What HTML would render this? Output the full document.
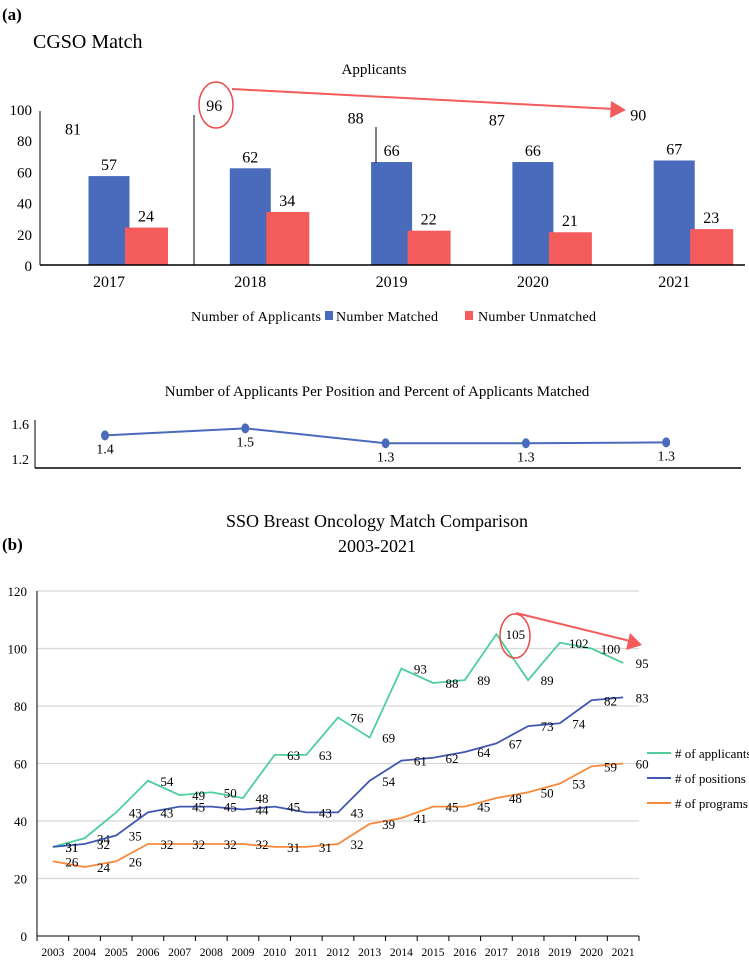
<!DOCTYPE html>
<html><head><meta charset="utf-8"><style>
body{margin:0;background:#fff;}
svg{display:block;font-family:"Liberation Serif",serif;}
</style></head><body>
<svg id="s" width="749" height="960" viewBox="0 0 749 960" xmlns="http://www.w3.org/2000/svg">
<text x="2" y="20" font-size="17" font-weight="bold">(a)</text>
<text x="33" y="48" font-size="20">CGSO Match</text>
<text x="374" y="74" font-size="15" text-anchor="middle">Applicants</text>
<g id="ga"></g>
<g id="legA">
<text x="191" y="321" font-size="14" textLength="130">Number of Applicants</text>
<rect x="325" y="311" width="8" height="9" fill="#4a6abb"/>
<text x="336" y="321" font-size="14" textLength="102">Number Matched</text>
<rect x="465" y="311" width="8" height="9" fill="#f45b5b"/>
<text x="478" y="321" font-size="14" textLength="118">Number Unmatched</text>
</g>
<text x="377" y="396" font-size="15" text-anchor="middle">Number of Applicants Per Position and Percent of Applicants Matched</text>
<g id="gr"></g>
<text x="377" y="527" font-size="18" text-anchor="middle">SSO Breast Oncology Match Comparison</text>
<text x="377" y="552" font-size="18" text-anchor="middle">2003-2021</text>
<text x="2" y="550" font-size="17" font-weight="bold">(b)</text>
<g id="gb"></g>
</svg>
<script>
const aYears=["2017","2018","2019","2020","2021"];
const aApplicants=[81,96,88,87,90];
const aMatched=[57,62,66,66,67];
const aUnmatched=[24,34,22,21,23];
const aTicks=[0,20,40,60,80,100];
const rValues=[1.47,1.55,1.38,1.38,1.39];
const rLabels=["1.4","1.5","1.3","1.3","1.3"];
const rTicks=[1.2,1.6];
const bYears=["2003","2004","2005","2006","2007","2008","2009","2010","2011","2012","2013","2014","2015","2016","2017","2018","2019","2020","2021"];
const bApplicants=[31,34,43,54,49,50,48,63,63,76,69,93,88,89,105,89,102,100,95];
const bPositions=[31,32,35,43,45,45,44,45,43,43,54,61,62,64,67,73,74,82,83];
const bPrograms=[26,24,26,32,32,32,32,31,31,32,39,41,45,45,48,50,53,59,60];
const bTicks=[0,20,40,60,80,100,120];
const NS="http://www.w3.org/2000/svg";
function mk(p,t,a){const e=document.createElementNS(NS,t);for(const k in a)e.setAttribute(k,a[k]);p.appendChild(e);return e;}
// Chart A
const ga=document.getElementById('ga');
const ay=v=>265-v*1.56;
const ax=i=>109+i*141.3;
aTicks.forEach(t=>{const e=mk(ga,'text',{x:32,y:ay(t)+6,'font-size':15,'text-anchor':'end'});e.textContent=t;

});
mk(ga,'line',{x1:40,y1:ay(100)+2,x2:40,y2:265,stroke:'#000','stroke-width':1});
aYears.forEach((y,i)=>{
 const c=ax(i);
 let r=mk(ga,'rect',{x:c-20.5,y:ay(aMatched[i]),width:41,height:aMatched[i]*1.56,fill:'#4a6abb'});
 
 
 r=mk(ga,'rect',{x:c+16,y:ay(aUnmatched[i]),width:43,height:aUnmatched[i]*1.56,fill:'#f45b5b'});
 
 
 let t=mk(ga,'text',{x:c,y:ay(aMatched[i])-6,'font-size':16,'text-anchor':'middle'});t.textContent=aMatched[i];
 
 
 t=mk(ga,'text',{x:c+37,y:ay(aUnmatched[i])-6,'font-size':16,'text-anchor':'middle'});t.textContent=aUnmatched[i];
 
 
 t=mk(ga,'text',{x:c-36,y:ay(aApplicants[i])-4,'font-size':16,'text-anchor':'middle'});t.textContent=aApplicants[i];
 
 
 t=mk(ga,'text',{x:c,y:287,'font-size':16,'text-anchor':'middle'});t.textContent=y;
 
 
});
mk(ga,'line',{x1:40,y1:265,x2:745,y2:265,stroke:'#000','stroke-width':1.5});
mk(ga,'line',{x1:194,y1:115,x2:194,y2:265,stroke:'#000','stroke-width':1});
mk(ga,'line',{x1:376,y1:127,x2:376,y2:163,stroke:'#000','stroke-width':1});
let ea=mk(ga,'ellipse',{cx:216,cy:105,rx:17,ry:23,fill:'none',stroke:'#e84a4a','stroke-width':1.5});


mk(ga,'line',{x1:232,y1:89,x2:614,y2:109,stroke:'#f45b5b','stroke-width':2});
ea=mk(ga,'polygon',{points:'626,110 611,101 610,118',fill:'#f45b5b'});


// Ratio chart
const gr=document.getElementById('gr');
const ry=v=>459-(v-1.2)*87.5;
const rx=i=>105+i*140.3;
rTicks.forEach(t=>{const e=mk(gr,'text',{x:29,y:ry(t)+5,'font-size':14,'text-anchor':'end'});e.textContent=t.toFixed(1);

});
mk(gr,'line',{x1:35,y1:420,x2:35,y2:468,stroke:'#000','stroke-width':1});
mk(gr,'line',{x1:35,y1:468,x2:741,y2:468,stroke:'#000','stroke-width':1.5});
mk(gr,'polyline',{points:rValues.map((v,i)=>rx(i)+','+ry(v)).join(' '),fill:'none',stroke:'#4a6abb','stroke-width':2});
rValues.forEach((v,i)=>{
 const c=mk(gr,'ellipse',{cx:rx(i),cy:ry(v),rx:4,ry:5,fill:'#4a6abb'});
 
 
 const t=mk(gr,'text',{x:rx(i),y:ry(v)+18,'font-size':14,'text-anchor':'middle'});t.textContent=rLabels[i];
 
 
});
// Chart B
const gb=document.getElementById('gb');
const by=v=>936-v*2.875;
const step=(639-37)/19;
const bx=i=>37+step*(i+0.5);
bTicks.forEach(t=>{
 if(t>0){const g=mk(gb,'line',{x1:37,y1:by(t),x2:639,y2:by(t),stroke:'#d8d8d8','stroke-width':1.2});
 
 }
 const e=mk(gb,'text',{x:27,y:by(t)+5,'font-size':13,'text-anchor':'end'});e.textContent=t;
 
 
});
mk(gb,'line',{x1:37,y1:by(120),x2:37,y2:936,stroke:'#000','stroke-width':1});
mk(gb,'line',{x1:37,y1:936,x2:639,y2:936,stroke:'#000','stroke-width':1});
for(let i=0;i<=19;i++)mk(gb,'line',{x1:37+step*i,y1:936,x2:37+step*i,y2:941,stroke:'#000','stroke-width':1});
bYears.forEach((y,i)=>{const t=mk(gb,'text',{x:bx(i),y:956,'font-size':11.5,'text-anchor':'middle'});t.textContent=y;
 
 });
const series=[[bApplicants,'#4ecf9c','applicants'],[bPositions,'#4058b0','positions'],[bPrograms,'#f7893a','programs']];
series.forEach(([d,col,nm])=>{
 const p=mk(gb,'polyline',{points:d.map((v,i)=>bx(i)+','+by(v)).join(' '),fill:'none',stroke:col,'stroke-width':1.8});
 
 
 d.forEach((v,i)=>{const t=mk(gb,'text',{x:bx(i)+19,y:by(v)+5,'font-size':13,'text-anchor':'middle'});t.textContent=v;
  
  });
});
[['# of applicants','#4ecf9c',753],['# of positions','#4058b0',778],['# of programs','#f7893a',803]].forEach(([l,c,y])=>{
 mk(gb,'line',{x1:647,y1:y,x2:671,y2:y,stroke:c,'stroke-width':2});
 const t=mk(gb,'text',{x:675,y:y+5,'font-size':13});t.textContent=l;
 
 
});
let eb=mk(gb,'ellipse',{cx:515,cy:636,rx:15,ry:22,fill:'none',stroke:'#e84a4a','stroke-width':1.5});


mk(gb,'line',{x1:516,y1:613,x2:630,y2:641,stroke:'#f45b5b','stroke-width':2});
eb=mk(gb,'polygon',{points:'642,645 630,633 626,650',fill:'#f45b5b'});


</script>
</body></html>
